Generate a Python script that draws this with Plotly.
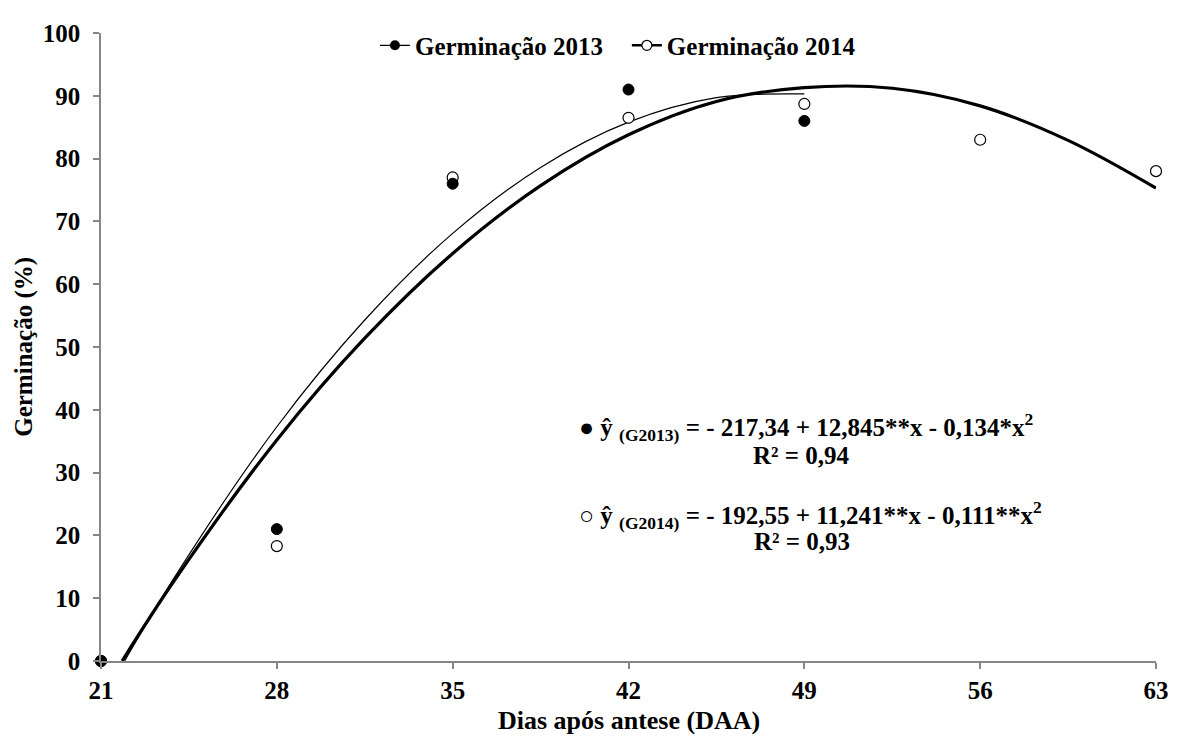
import plotly.graph_objects as go

# Observed data
dias = [21, 28, 35, 42, 49, 56, 63]
germ_2013 = [0, 21, 76, 91, 86]
germ_2014 = [0, 18.3, 77, 86.5, 88.7, 83, 78]

# Fitted curves
curve_x_2013 = [21.94, 24, 28, 31.5, 35, 38.5, 42, 45.5, 49]
curve_y_2013 = [0, 13.8, 37.3, 54.3, 68.1, 78.6, 85.8, 89.7, 90.3]
curve_x_2014 = [21.84, 24, 28, 31.5, 35, 38.5, 42, 45.5, 49, 52.5, 56, 59.5, 63]
curve_y_2014 = [0, 13.3, 35.2, 51.4, 64.9, 75.7, 83.8, 89.1, 91.3, 91.2, 88.4, 82.9, 75.3]

y_ticks = list(range(0, 101, 10))

FONT = "Liberation Serif, Tinos, Times New Roman, DejaVu Serif, serif"
AX = "#868686"
NB = "\u00a0"

fig = go.Figure()

fig.add_trace(go.Scatter(x=curve_x_2013, y=curve_y_2013, mode="lines",
                         line=dict(color="black", width=1.2, shape="spline"),
                         showlegend=False, hoverinfo="skip"))
fig.add_trace(go.Scatter(x=curve_x_2014, y=curve_y_2014, mode="lines",
                         line=dict(color="black", width=3.2, shape="spline"),
                         showlegend=False, hoverinfo="skip"))

fig.add_trace(go.Scatter(x=dias[:len(germ_2014)], y=germ_2014, mode="markers",
                         marker=dict(symbol="circle", size=11, color="white",
                                     line=dict(color="black", width=1.2)),
                         showlegend=False, cliponaxis=False))
fig.add_trace(go.Scatter(x=dias[:len(germ_2013)], y=germ_2013, mode="markers",
                         marker=dict(symbol="circle", size=11, color="black",
                                     line=dict(color="black", width=1)),
                         showlegend=False, cliponaxis=False))

# legend entries
fig.add_trace(go.Scatter(x=[None], y=[None], mode="lines+markers",
                         name="<b>Germinação 2013</b>" + NB * 3,
                         line=dict(color="black", width=1.2),
                         marker=dict(symbol="circle", size=10, color="black")))
fig.add_trace(go.Scatter(x=[None], y=[None], mode="lines+markers",
                         name="<b>Germinação 2014</b>",
                         line=dict(color="black", width=2.5),
                         marker=dict(symbol="circle", size=10, color="white",
                                     line=dict(color="black", width=1.2))))

ann_font = dict(family=FONT, size=25, color="black")
annotations = [
    dict(x=39.95, y=37.2, xref="x", yref="y", xanchor="left", yanchor="middle",
         text="<b>● ŷ <sub>(G2013)</sub> = - 217,34 + 12,845**x - 0,134*x<sup>2</sup></b>",
         showarrow=False, font=ann_font),
    dict(x=48.9, y=32.8, xref="x", yref="y", xanchor="center", yanchor="middle",
         text="<b>R² = 0,94</b>", showarrow=False, font=ann_font),
    dict(x=39.95, y=23.2, xref="x", yref="y", xanchor="left", yanchor="middle",
         text="<b>○ ŷ <sub>(G2014)</sub> = - 192,55 + 11,241**x - 0,111**x<sup>2</sup></b>",
         showarrow=False, font=ann_font),
    dict(x=48.9, y=19.0, xref="x", yref="y", xanchor="center", yanchor="middle",
         text="<b>R² = 0,93</b>", showarrow=False, font=ann_font),
    dict(x=-0.0732, y=0.5, xref="paper", yref="paper", xanchor="center", yanchor="middle",
         text="<b>Germinação (%)</b>", textangle=-90, showarrow=False,
         font=dict(family=FONT, size=25, color="black")),
    dict(x=0.5, y=-0.094, xref="paper", yref="paper", xanchor="center", yanchor="middle",
         text="<b>Dias após antese (DAA)</b>", showarrow=False,
         font=dict(family=FONT, size=26, color="black")),
]

# the page adds an 8px body margin, so the canvas is shifted accordingly
fig.update_layout(
    width=1173, height=729,
    margin=dict(l=93, r=15, t=19, b=76),
    paper_bgcolor="white", plot_bgcolor="white",
    font=dict(family=FONT, size=25, color="black"),
    annotations=annotations,
    legend=dict(orientation="h", x=0.49, xanchor="center", y=0.98, yanchor="middle",
                bgcolor="rgba(0,0,0,0)", font=dict(family=FONT, size=25, color="black"),
                itemwidth=30, tracegroupgap=0),
    xaxis=dict(range=[21, 63], tickvals=dias, ticktext=[f"<b>{d}</b>" for d in dias],
               showgrid=False, zeroline=False, showline=True, linecolor=AX, linewidth=1.5,
               ticks="outside", tickcolor=AX, ticklen=6, tickwidth=1.5,
               ticklabelstandoff=0,
               tickfont=dict(family=FONT, size=25, color="black")),
    yaxis=dict(range=[0, 100], tickvals=y_ticks, ticktext=[f"<b>{v}</b>" for v in y_ticks],
               showgrid=False, zeroline=False, showline=True, linecolor=AX, linewidth=1.5,
               ticks="outside", tickcolor=AX, ticklen=6, tickwidth=1.5,
               ticklabelstandoff=8,
               tickfont=dict(family=FONT, size=25, color="black")),
)

fig.write_html("out.html")
